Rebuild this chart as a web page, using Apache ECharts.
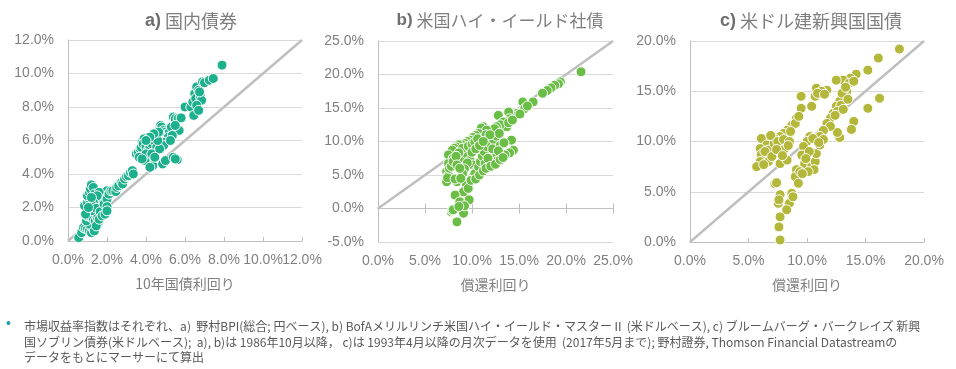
<!DOCTYPE html>
<html>
<head>
<meta charset="utf-8">
<script src="https://cdn.jsdelivr.net/npm/echarts@6/dist/echarts.min.js"></script>
<style>html,body{margin:0;padding:0;background:#fff}#c{width:956px;height:369px}</style>
</head>
<body>
<div id="c"></div>
<script>
// ---- Data (x = yield %, y = return %) ----
const titlesPrefix = ['a)', 'b)', 'c)'];
const titlesText = [' 国内債券', ' 米国ハイ・イールド社債', ' 米ドル建新興国国債'];
const xAxisNames = ['10年国債利回り', '償還利回り', '償還利回り'];
const axisRanges = [[0, 12, 2, 0, 12, 2], [0, 25, 5, -5, 25, 5], [0, 20, 5, 0, 20, 5]];

const domesticBond = [
 [0.55,0.2],[0.7,0.5],[0.8,0.8],[0.9,0.75],[1.0,0.7],[1.1,0.6],[1.2,0.5],[1.25,0.8],[1.3,0.9],[1.1,1.0],
 [0.95,1.2],[1.0,1.5],[1.2,1.4],[1.3,1.3],[1.4,1.2],[1.5,1.4],[1.6,1.6],[1.4,1.7],[1.2,1.8],[1.0,1.9],
 [0.85,2.1],[1.0,2.3],[1.1,2.5],[1.0,2.7],[1.1,2.9],[1.15,3.1],[1.2,3.35],[1.3,3.2],[1.35,2.8],[1.4,2.6],
 [1.5,2.4],[1.6,2.2],[1.7,2.0],[1.8,1.8],[1.9,1.9],[1.7,2.5],[1.8,2.7],[1.9,2.9],[2.0,3.0],[1.6,2.9],
 [1.5,2.7],[1.3,2.3],[1.25,2.1],[1.45,1.95],[1.65,1.75],[1.85,2.2],[2.0,2.5],[2.1,2.8],[2.2,3.0],[2.0,2.05],
 [1.55,1.1],[1.35,0.6],[1.45,0.9],[0.9,1.6],[1.05,2.0],[1.2,2.6],[1.6,1.3],[1.75,1.5],[1.9,1.6],[2.0,1.8],
 [2.3,3.0],[2.45,2.95],[2.5,3.2],[2.6,3.3],[2.75,3.5],[2.8,3.4],[2.9,3.7],[3.0,3.85],[3.1,3.9],[3.2,4.1],
 [3.3,4.2],[3.35,4.0],
 [3.5,5.2],[3.6,5.3],[3.7,5.5],[3.75,5.6],[3.8,5.9],[3.9,6.1],[3.85,5.8],[4.0,5.6],[4.1,5.4],[4.2,5.6],
 [4.3,5.8],[4.4,6.0],[4.5,6.2],[4.55,5.6],[4.6,6.4],[4.7,6.7],[4.75,6.9],[4.8,6.8],[4.9,6.6],[5.0,6.5],
 [5.1,6.4],[5.2,6.5],[5.3,6.8],[5.15,6.2],[5.0,5.9],[4.9,5.7],[4.1,5.1],[3.95,4.8],[4.0,5.2],[4.3,5.2],
 [4.35,4.5],[4.2,4.4],[4.85,4.6],[5.0,4.8],[5.4,5.0],[5.6,4.85],[5.5,4.9],[4.7,5.5],[4.45,5.0],[3.65,5.0],
 [3.8,4.9],[4.6,6.0],[5.4,7.4],[5.5,7.3],[5.65,7.3],[5.8,7.35],[5.7,6.6],[5.5,6.9],[5.35,6.3],[5.25,6.0],
 [4.65,6.5],[4.4,6.4],[4.2,6.2],[4.0,6.0],
 [6.0,8.0],[6.3,8.0],[6.4,8.3],[6.45,7.5],[6.5,8.8],[6.55,8.5],[6.6,9.2],[6.7,9.0],[6.8,8.6],[6.85,8.4],
 [6.6,8.1],[6.7,7.8],[6.9,9.5],[7.0,9.45],[7.25,9.6],[7.45,9.7],[7.9,10.5],[6.75,8.9]
];

const highYield = [
 [21.6,20.4],[19.4,18.9],[19.2,18.6],[18.8,18.4],[18.4,18.0],[18.0,17.6],[17.5,17.2],[16.5,15.9],[15.4,15.9],[15.6,14.9],
 [15.9,15.3],[14.8,14.2],[14.6,13.8],[13.9,14.4],[12.8,13.9],[14.0,13.4],[13.5,13.0],[13.3,12.9],[13.7,12.2],[13.0,12.5],
 [12.6,12.2],[12.1,11.4],[12.4,11.9],[13.9,12.8],[14.3,13.2],[15.1,14.1],
 [11.2,12.2],[11.0,12.0],[11.56,11.7],[10.7,11.2],[10.4,10.9],[10.1,10.6],[9.8,10.2],[9.5,10.0],[9.26,9.7],[8.9,9.5],
 [8.55,9.5],[8.3,9.2],[8.1,9.0],[7.9,8.7],[7.66,7.7],[7.5,8.0],[8.0,7.5],[7.5,6.7],[7.3,5.5],[7.5,5.0],
 [7.3,4.0],[7.4,4.6],[7.6,6.0],[7.8,6.3],[8.0,7.0],[8.4,4.0],[8.2,4.4],[8.8,8.0],[9.0,7.6],[9.4,8.2],
 [9.8,7.2],[10.1,6.5],[10.5,5.7],[10.1,4.7],[10.3,5.2],[10.7,6.2],[10.9,7.0],[11.1,7.8],[11.3,8.5],[11.6,9.2],
 [11.9,9.8],[12.3,10.3],[12.6,10.8],[12.9,11.2],
 [14.2,10.2],[14.4,8.7],[14.0,8.3],[13.5,8.0],[12.6,8.2],[12.6,7.0],[12.1,6.7],[11.4,6.7],[11.7,7.5],[12.2,8.9],
 [13.0,9.4],[13.4,9.8],[12.8,8.6],
 [9.4,3.5],[9.1,2.5],[9.6,3.0],[8.2,2.0],[9.4,1.0],[9.7,1.3],[8.7,1.0],[7.8,-0.5],[7.9,-0.3],[9.1,-0.7],
 [8.4,-2.0],[8.0,-0.2],[9.2,0.4],[8.6,0.3],
 [9.0,9.0],[9.6,9.3],[10.0,9.6],[10.3,9.9],[10.6,10.4],[11.5,11.0],[11.9,11.0],[10.0,8.4],[10.4,8.9],[10.8,9.4],
 [11.2,10.0],[9.5,6.8],[9.2,5.9],[9.0,5.2],[8.8,4.5],[9.9,4.2],[10.4,4.4],[10.8,5.0],[11.2,5.6],[11.5,6.0],
 [12.0,6.3],[12.5,6.6],[13.0,7.3],[13.3,7.6],[8.6,8.3],[8.3,7.8],[8.4,6.5],[8.7,6.0]
];

const emSovereign = [
 [17.9,19.2],[16.1,18.3],[15.2,17.1],[14.2,16.7],[13.7,16.3],[13.1,16.1],[12.5,16.1],[13.6,15.8],[14.0,16.0],
 [16.2,14.3],[15.2,13.3],[14.0,12.0],[13.8,11.2],[12.8,10.4],[12.6,10.9],
 [13.4,15.0],[13.25,14.5],[12.8,14.0],[12.5,13.5],[12.25,12.8],[12.0,12.3],[11.7,11.8],[12.0,11.5],[11.4,11.1],[11.1,10.5],
 [13.0,14.8],[13.3,15.4],[12.9,13.6],[12.6,13.0],[13.1,13.2],[12.4,12.6],[13.5,14.2],
 [10.8,15.3],[11.7,15.1],[11.25,15.0],[10.7,14.5],[10.4,13.5],[9.5,14.5],[9.5,13.3],[10.9,14.8],[11.5,14.7],
 [9.1,12.3],[8.7,11.6],[8.3,11.1],[8.0,10.8],[7.7,10.5],[7.3,10.2],[6.7,10.3],[6.1,10.3],[6.55,9.65],[6.0,9.3],
 [6.7,9.15],[6.1,8.7],[6.0,8.0],[5.7,7.5],[6.7,8.0],[7.7,7.8],[8.3,8.15],[7.7,9.65],[8.0,9.15],[7.2,9.8],
 [6.9,10.6],[7.5,10.0],[8.0,10.2],[8.5,10.0],[9.0,11.8],[9.3,12.5],[6.4,9.0],[7.0,8.5],[7.4,9.2],[8.4,9.6],
 [6.3,7.7],[7.9,8.6],[8.6,11.0],
 [10.25,10.5],[10.0,10.0],[9.7,9.5],[9.55,8.65],[9.8,7.8],[10.4,7.5],[10.7,8.0],[10.8,8.8],[11.1,9.65],[10.5,10.3],
 [10.2,9.0],[9.9,8.3],[10.6,7.2],[10.1,7.0],[11.4,10.2],[11.0,9.9],
 [9.1,7.2],[9.0,6.5],[9.26,5.84],[8.7,4.84],[8.5,3.85],[8.26,3.2],[9.4,7.0],[9.6,6.8],[8.8,4.5],
 [7.26,5.8],[7.7,4.7],[7.55,3.85],[7.7,2.5],[7.6,1.5],[7.7,0.2],[7.4,5.9],[7.6,4.2]
];

const footnoteLines = [
 '市場収益率指数はそれぞれ、a)  野村BPI(総合; 円ベース), b) BofAメリルリンチ米国ハイ・イールド・マスターⅡ (米ドルベース), c) ブルームバーグ・バークレイズ 新興',
 '国ソブリン債券(米ドルベース);  a), b)は 1986年10月以降， c)は 1993年4月以降の月次データを使用  (2017年5月まで); 野村證券, Thomson Financial Datastreamの',
 'データをもとにマーサーにて算出'
];

// ---- Styling / layout ----
const seriesData = [domesticBond, highYield, emSovereign];
const colors = ['#1DB08C', '#6BBE45', '#B4B83A'];
const grids = [
  {left: 68, top: 40, width: 234, height: 201},
  {left: 378, top: 41, width: 235, height: 201},
  {left: 690, top: 41, width: 234, height: 201}
];
const titleCenters = [186, 495, 806];
const titleSizes = [18, 17, 18];
const labelColor = '#808080';
const gridColor = '#D9D9D9';
const axisColor = '#BFBFBF';
const pct = v => v.toFixed(1) + '%';
const numFont = 'Liberation Sans, Arial, sans-serif';
const jpFont = '"Noto Sans CJK JP", sans-serif';

const option = {
  animation: false,
  grid: grids.map(g => Object.assign({containLabel: false}, g)),
  title: grids.map((g, i) => ({
    text: '{p|' + titlesPrefix[i] + '}{t|' + titlesText[i] + '}',
    left: titleCenters[i], top: 7, textAlign: 'center',
    textStyle: {fontWeight: 'normal', rich: {
      p: {fontSize: titleSizes[i], fontWeight: 'bold', color: '#6E6E6E', fontFamily: numFont},
      t: {fontSize: titleSizes[i], fontWeight: 'normal', color: '#7F7F7F', fontFamily: jpFont}
    }}
  })),
  xAxis: [],
  yAxis: [],
  series: [],
  graphic: []
};

const labelStyle = {color: labelColor, fontSize: 14, fontFamily: numFont, margin: 12,
  interval: 0, showMaxLabel: true, showMinLabel: true, hideOverlap: false};

grids.forEach((g, i) => {
  const r = axisRanges[i];
  option.yAxis.push({
    type: 'value', gridIndex: i, min: r[3], max: r[4], interval: r[5],
    axisLine: {show: true, lineStyle: {color: axisColor, width: 1}},
    axisTick: {show: false},
    splitLine: {show: true, lineStyle: {color: gridColor, width: 1}},
    axisLabel: {formatter: pct, color: labelColor, fontSize: 14, fontFamily: numFont, margin: 14}
  });
  // labels on even tick indices (and the axis name)
  option.xAxis.push({
    type: 'value', gridIndex: i, min: r[0], max: r[1], interval: r[2],
    position: 'bottom',
    axisLine: {show: r[3] === 0, onZero: false, lineStyle: {color: axisColor, width: 1}},
    axisTick: {show: r[3] === 0, inside: true, length: 4, lineStyle: {color: axisColor}},
    splitLine: {show: false},
    axisLabel: Object.assign({}, labelStyle, {
      formatter: v => (Math.round((v - r[0]) / r[2]) % 2 === 0 ? pct(v) : '')}),
    name: xAxisNames[i], nameLocation: 'middle', nameGap: 36,
    nameTextStyle: {color: labelColor, fontSize: 14, fontFamily: jpFont}
  });
});
// labels on odd tick indices
grids.forEach((g, i) => {
  const r = axisRanges[i];
  option.xAxis.push({
    type: 'value', gridIndex: i, min: r[0], max: r[1], interval: r[2],
    position: 'bottom', offset: 0,
    axisLine: {show: false, onZero: false}, axisTick: {show: false}, splitLine: {show: false},
    axisLabel: Object.assign({}, labelStyle, {
      formatter: v => (Math.round((v - r[0]) / r[2]) % 2 === 1 ? pct(v) : '')})
  });
});
// extra zero-line axes for panel b (cross ticks)
[true, false].forEach(inside => {
  option.xAxis.push({
    type: 'value', gridIndex: 1, min: axisRanges[1][0], max: axisRanges[1][1], interval: axisRanges[1][2],
    axisLine: {show: true, onZero: true, onZeroAxisIndex: 1, lineStyle: {color: axisColor, width: 1}},
    axisTick: {show: true, inside: inside, length: 5, lineStyle: {color: axisColor}},
    axisLabel: {show: false}, splitLine: {show: false}
  });
});

grids.forEach((g, i) => {
  const r = axisRanges[i];
  option.series.push({
    type: 'line', xAxisIndex: i, yAxisIndex: i, data: [[r[0], r[0]], [r[1], r[1]]],
    showSymbol: false, symbol: 'none', lineStyle: {color: '#BFBFBF', width: 2.5}, z: 1, silent: true
  });
  option.series.push({
    type: 'scatter', xAxisIndex: i, yAxisIndex: i, data: seriesData[i],
    symbolSize: 10, itemStyle: {color: colors[i], borderColor: '#FFFFFF', borderWidth: 1, opacity: 1}, z: 3
  });
});

// footnote
const ctx = document.createElement('canvas').getContext('2d');
const fnFont = '12px "Noto Sans CJK JP"';
ctx.font = fnFont;
const fnTargets = [914, 911, 181];
const fnY = [326, 342, 357];
option.graphic.push({type: 'text', left: 6, top: fnY[0] - 9, style: {text: '•', fill: '#1FA0B4', font: '14px sans-serif'}});
footnoteLines.forEach((t, k) => {
  const w = ctx.measureText(t).width;
  const s = Math.min(1, fnTargets[k] / w);
  option.graphic.push({type: 'text', x: 24, y: fnY[k], scaleX: s,
    style: {text: t, fill: '#595959', font: fnFont, textVerticalAlign: 'middle', verticalAlign: 'middle'}});
});

const chart = echarts.init(document.getElementById('c'));
chart.setOption(option);
</script>
</body>
</html>
